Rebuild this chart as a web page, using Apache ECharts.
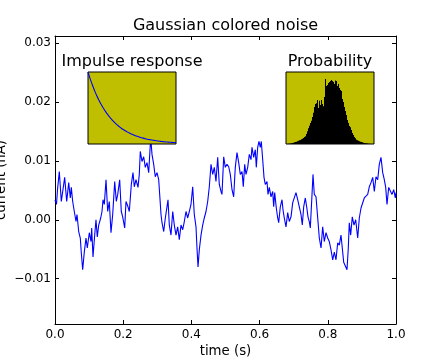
<!DOCTYPE html>
<html><head><meta charset="utf-8">
<script src="https://cdn.jsdelivr.net/npm/echarts@6/dist/echarts.min.js"></script>
<style>html,body{margin:0;padding:0;background:#fff}#c{width:440px;height:360px}</style>
</head><body><div id="c"></div>
<script>
const timeS = [0.000,0.0044,0.0073,0.0126,0.0185,0.0284,0.0343,0.0402,0.0449,0.0478,0.0519,0.0566,0.0616,0.0645,0.0695,0.0742,0.0771,0.0812,0.0859,0.0909,0.0947,0.1006,0.1056,0.1076,0.1114,0.1164,0.1202,0.1240,0.1282,0.1340,0.1378,0.1408,0.1446,0.1496,0.1545,0.1592,0.1642,0.1692,0.1751,0.1798,0.1839,0.1897,0.1944,0.1985,0.2044,0.2082,0.2141,0.2179,0.2238,0.2287,0.2326,0.2375,0.2434,0.2472,0.2501,0.2551,0.2601,0.2648,0.2698,0.2748,0.2795,0.2815,0.2845,0.2894,0.2941,0.2991,0.3041,0.3070,0.3109,0.3138,0.3188,0.3235,0.3284,0.3314,0.3352,0.3402,0.3452,0.3499,0.3548,0.3598,0.3645,0.3695,0.3745,0.3792,0.3842,0.3892,0.3938,0.3988,0.4038,0.4085,0.4135,0.4164,0.4194,0.4232,0.4282,0.4331,0.4378,0.4428,0.4478,0.4525,0.4575,0.4625,0.4672,0.4721,0.4771,0.4818,0.4868,0.4897,0.4947,0.4994,0.5044,0.5094,0.5141,0.5191,0.5240,0.5287,0.5337,0.5387,0.5434,0.5484,0.5522,0.5563,0.5601,0.5651,0.5698,0.5748,0.5777,0.5827,0.5874,0.5903,0.5944,0.5982,0.6021,0.6050,0.6091,0.6129,0.6167,0.6217,0.6246,0.6284,0.6334,0.6384,0.6413,0.6443,0.6490,0.6531,0.6560,0.6607,0.6657,0.6686,0.6724,0.6774,0.6824,0.6871,0.6921,0.6971,0.7018,0.7067,0.7117,0.7164,0.7214,0.7252,0.7293,0.7340,0.7381,0.7419,0.7457,0.7487,0.7537,0.7566,0.7604,0.7654,0.7704,0.7751,0.7801,0.7850,0.7897,0.7947,0.7997,0.8044,0.8094,0.8144,0.8191,0.8240,0.8290,0.8337,0.8387,0.8425,0.8466,0.8513,0.8563,0.8601,0.8630,0.8671,0.8718,0.8768,0.8818,0.8877,0.8924,0.8974,0.9023,0.9070,0.9120,0.9170,0.9217,0.9267,0.9317,0.9364,0.9413,0.9463,0.9510,0.9560,0.9610,0.9657,0.9698,0.9736,0.9786,0.9833,0.9883,0.9933,0.9980,1.0000];
const currentNA = [0.0034,0.0026,0.0051,0.0082,0.0031,0.0072,0.0031,0.0063,0.0037,0.0055,0.0031,0.0014,-0.0003,0.0009,-0.0020,-0.0031,-0.0056,-0.0085,-0.0055,-0.0031,-0.0048,-0.0022,-0.0037,-0.0014,-0.0063,-0.0026,0.0000,-0.0029,-0.0009,0.0003,0.0014,0.0034,0.0026,0.0068,0.0014,0.0031,-0.0022,0.0009,0.0065,0.0031,0.0043,0.0068,0.0014,0.0005,-0.0014,0.0031,0.0022,0.0014,0.0060,0.0080,0.0056,0.0068,0.0055,0.0077,0.0116,0.0099,0.0107,0.0089,0.0097,0.0080,0.0128,0.0133,0.0111,0.0094,0.0073,0.0080,0.0068,0.0043,0.0009,-0.0005,-0.0020,0.0003,0.0022,0.0034,-0.0009,-0.0026,0.0014,-0.0009,-0.0026,-0.0012,-0.0034,-0.0009,-0.0017,-0.0003,0.0014,0.0003,0.0014,0.0026,0.0056,0.0009,-0.0012,-0.0048,-0.0080,-0.0051,-0.0026,-0.0009,0.0003,0.0014,0.0031,0.0056,0.0094,0.0077,0.0089,0.0065,0.0106,0.0060,0.0048,0.0043,0.0107,0.0089,0.0094,0.0090,0.0077,0.0051,0.0039,0.0089,0.0114,0.0097,0.0077,0.0082,0.0056,0.0094,0.0077,0.0089,0.0111,0.0102,0.0123,0.0106,0.0119,0.0089,0.0123,0.0133,0.0123,0.0133,0.0102,0.0072,0.0060,0.0065,0.0043,0.0055,0.0039,0.0048,0.0022,0.0046,0.0020,0.0003,-0.0005,0.0022,0.0034,0.0017,0.0003,-0.0012,0.0012,-0.0003,0.0005,0.0029,0.0031,0.0046,0.0034,0.0022,0.0009,-0.0009,0.0022,0.0037,0.0022,0.0005,-0.0003,-0.0014,0.0043,0.0077,0.0043,0.0039,0.0003,-0.0031,-0.0048,-0.0012,-0.0037,-0.0022,-0.0031,-0.0037,-0.0051,-0.0068,-0.0055,-0.0068,-0.0039,-0.0043,-0.0026,-0.0048,-0.0072,-0.0073,-0.0085,-0.0048,-0.0005,-0.0026,0.0005,-0.0009,0.0000,-0.0031,0.0003,0.0020,0.0022,0.0037,0.0034,0.0043,0.0056,0.0063,0.0072,0.0048,0.0073,0.0068,0.0094,0.0106,0.0080,0.0068,0.0055,0.0026,0.0055,0.0056,0.0043,0.0051,0.0037,0.0046];
const impulseT = [0,0.005,0.01,0.015,0.02,0.025,0.03,0.035,0.04,0.045,0.05,0.055,0.06,0.065,0.07,0.075,0.08,0.085,0.09,0.095,0.1,0.105,0.11,0.115,0.12,0.125,0.13,0.135,0.14,0.145,0.15,0.155,0.16,0.165,0.17,0.175,0.18,0.185,0.19,0.195,0.2];
const impulseR = [1.000,0.905,0.819,0.741,0.670,0.607,0.549,0.497,0.449,0.407,0.368,0.333,0.301,0.273,0.247,0.223,0.202,0.183,0.165,0.150,0.135,0.122,0.111,0.100,0.091,0.082,0.074,0.067,0.061,0.055,0.050,0.045,0.041,0.037,0.033,0.030,0.027,0.025,0.022,0.020,0.018];
const histCounts = [0,0,0.3,0.3,0.5,0.7,1.0,1.3,1.7,2.0,2.3,2.7,3.3,3.7,4.0,4.7,5.3,6.0,7.0,7.7,10.0,12.7,15.7,18.3,21.0,23.3,27.0,31.3,37.0,40.0,40.7,44.0,36.0,43.3,39.0,44.0,40.0,37.7,47.0,65.0,58.0,59.0,61.0,62.0,63.0,64.0,63.0,62.0,60.0,63.5,63.0,58.0,60.0,56.0,54.0,53.0,45.0,42.0,37.0,33.0,29.0,24.0,21.0,18.0,16.7,14.0,11.0,9.0,7.0,5.7,4.3,3.7,3.3,2.7,2.3,2.0,1.7,1.3,1.0,0.8,0.7,0.5,0.3,0.3,0,0,0,0];
const histMax = 72;
const xTickValues = [0,0.2,0.4,0.6,0.8,1.0];
const xTickLabels = ['0.0','0.2','0.4','0.6','0.8','1.0'];
const yTickValues = [-0.01,0,0.01,0.02,0.03];
const yTickLabels = ['\u22120.01','0.00','0.01','0.02','0.03'];
const titleText = 'Gaussian colored noise';
const xName = 'time (s)';
const yName = 'current (nA)';
const insetTitles = ['Impulse response','Probability'];

const FONT = 'DejaVu Sans';
function lab(vals, labels){ return v => { const i = vals.findIndex(u => Math.abs(u - v) < 1e-9); return i < 0 ? '' : labels[i]; }; }
const black = '#000';
const tick = (vals) => ({show:true, inside:true, length:4, customValues: vals, lineStyle:{color:black, width:1}});

const chart = echarts.init(document.getElementById('c'), null, {renderer:'canvas'});
chart.setOption({
  animation:false,
  backgroundColor:'#fff',
  title:[
    {text:titleText, left:225.5, top:18, textAlign:'center', padding:0, textStyle:{fontFamily:FONT, fontSize:16, fontWeight:'normal', color:black}},
    {text:insetTitles[0], left:132, top:54, textAlign:'center', padding:0, textStyle:{fontFamily:FONT, fontSize:16, fontWeight:'normal', color:black}},
    {text:insetTitles[1], left:330, top:54, textAlign:'center', padding:0, textStyle:{fontFamily:FONT, fontSize:16, fontWeight:'normal', color:black}}
  ],
  grid:[
    {left:55, right:44, top:36, bottom:36, containLabel:false, outerBoundsMode:'none'},
    {left:88, top:72, width:88, height:72, show:true, backgroundColor:'#bfbf00', borderColor:black, borderWidth:1, z:10, outerBoundsMode:'none'},
    {left:286, top:72, width:88, height:72, show:true, backgroundColor:'#bfbf00', borderColor:black, borderWidth:1, z:10, outerBoundsMode:'none'}
  ],
  xAxis:[
    {type:'value', gridIndex:0, min:0, max:1, position:'bottom',
      axisLine:{show:true, onZero:false, lineStyle:{color:black, width:1}},
      axisTick:tick(xTickValues), splitLine:{show:false},
      axisLabel:{customValues:xTickValues, formatter:lab(xTickValues,xTickLabels), margin:5, color:black, fontFamily:FONT, fontSize:12},
      name:xName, nameLocation:'middle', nameGap:21, nameMoveOverlap:false, nameTextStyle:{fontFamily:FONT, fontSize:13.3, color:black}},
    {type:'value', gridIndex:0, min:0, max:1, position:'top',
      axisLine:{show:true, onZero:false, lineStyle:{color:black, width:1}},
      axisTick:tick(xTickValues), splitLine:{show:false}, axisLabel:{show:false}},
    {type:'value', gridIndex:1, min:0, max:0.2, show:false},
    {type:'category', gridIndex:2, data:histCounts.map((_, i) => i), show:false}
  ],
  yAxis:[
    {type:'value', gridIndex:0, min:-0.0177, max:0.0312, position:'left',
      axisLine:{show:true, onZero:false, lineStyle:{color:black, width:1}},
      axisTick:tick(yTickValues), splitLine:{show:false},
      axisLabel:{customValues:yTickValues, formatter:lab(yTickValues,yTickLabels), margin:4, color:black, fontFamily:FONT, fontSize:12},
      name:yName, nameLocation:'middle', nameRotate:90, nameGap:47, nameMoveOverlap:false, nameTextStyle:{fontFamily:FONT, fontSize:13.3, color:black}},
    {type:'value', gridIndex:0, min:-0.0177, max:0.0312, position:'right',
      axisLine:{show:true, onZero:false, lineStyle:{color:black, width:1}},
      axisTick:tick(yTickValues), splitLine:{show:false}, axisLabel:{show:false}},
    {type:'value', gridIndex:1, min:0, max:1, show:false},
    {type:'value', gridIndex:2, min:0, max:histMax, show:false}
  ],
  series:[
    {type:'line', xAxisIndex:0, yAxisIndex:0, data:timeS.map((t, i) => [t, currentNA[i]]), showSymbol:false, symbol:'none',
      lineStyle:{color:'#0000ff', width:1.1}, z:2},
    {type:'line', xAxisIndex:2, yAxisIndex:2, data:impulseT.map((t, i) => [t, impulseR[i]]), showSymbol:false, symbol:'none', smooth:true,
      lineStyle:{color:'#0000ff', width:1.1}, z:11},
    {type:'bar', xAxisIndex:3, yAxisIndex:3, data:histCounts, barWidth:'100%', barCategoryGap:'0%',
      itemStyle:{color:black}, z:11}
  ]
});
</script></body></html>
